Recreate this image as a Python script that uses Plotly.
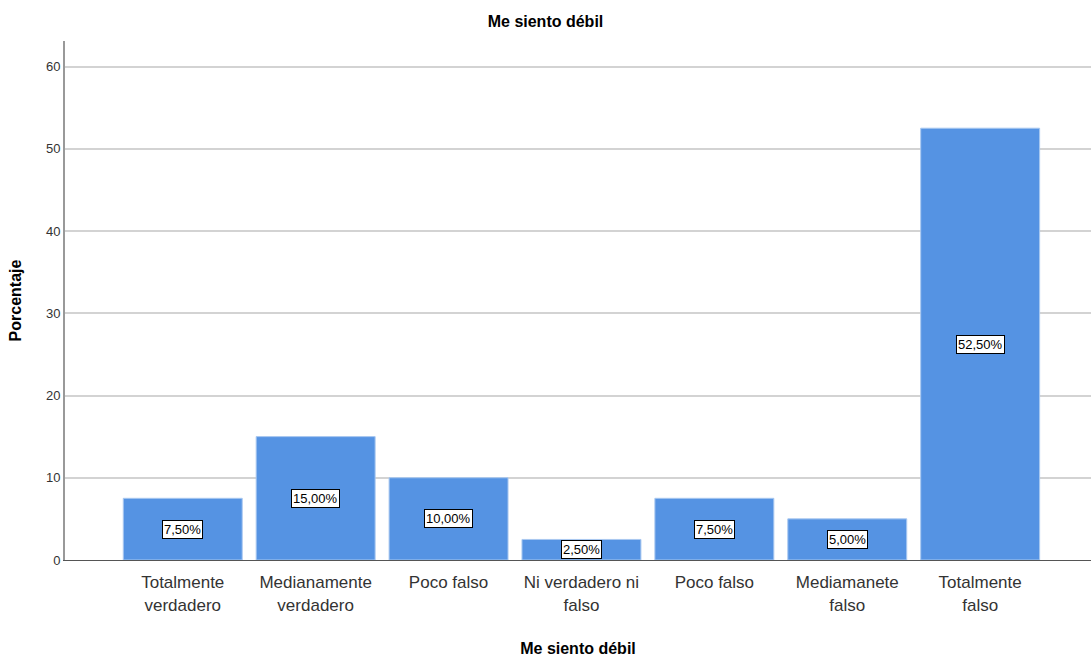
import plotly.graph_objects as go

categories = ["Totalmente<br>verdadero", "Medianamente<br>verdadero", "Poco falso",
              "Ni verdadero ni<br>falso", "Poco falso", "Mediamanete<br>falso", "Totalmente<br>falso"]
values = [7.5, 15.0, 10.0, 2.5, 7.5, 5.0, 52.5]
labels = ["7,50%", "15,00%", "10,00%", "2,50%", "7,50%", "5,00%", "52,50%"]
yticks = [0, 10, 20, 30, 40, 50, 60]

xpos = list(range(len(values)))

fig = go.Figure()
fig.add_trace(go.Bar(
    x=xpos, y=values,
    marker=dict(color="#5593E3", line=dict(color="#A9C8F0", width=1)),
    width=0.895,
    hoverinfo="skip",
))

for xi, v, t in zip(xpos, values, labels):
    fig.add_annotation(x=xi, y=v / 2, text=t, showarrow=False,
                       font=dict(family="Liberation Sans, Arial", size=13, color="black"),
                       bgcolor="white", bordercolor="black", borderwidth=1, borderpad=1)

fig.update_layout(
    width=1091, height=657,
    margin=dict(l=65, r=0, t=41, b=97),
    plot_bgcolor="white", paper_bgcolor="white",
    showlegend=False,
    title=dict(text="<b>Me siento débil</b>", x=0.5, xanchor="center", y=0.967, yanchor="middle",
               font=dict(family="Liberation Sans, Arial", size=16, color="black")),
    font=dict(family="Liberation Sans, Arial"),
)
fig.update_xaxes(
    range=[-0.886, 6.834], tickmode="array", tickvals=xpos, ticktext=categories,
    tickfont=dict(size=17, color="#333333"), showgrid=False, ticks="",
    ticklabelstandoff=7,
    showline=True, linecolor="#555555", linewidth=1, zeroline=False,
    title=dict(text="<b>Me siento débil</b>", font=dict(size=16, color="black"), standoff=32),
)
fig.update_yaxes(
    range=[0, 63.1], tickmode="array", tickvals=yticks, ticktext=[str(t) for t in yticks],
    tickfont=dict(size=13, color="#333333"), showgrid=True, gridcolor="#D3D3D3", gridwidth=1.5,
    showline=True, linecolor="#999999", linewidth=2, zeroline=False, ticks="",
    title=dict(text="<b>Porcentaje</b>", font=dict(size=16, color="black"), standoff=20),
)

fig.write_html("out.html")
